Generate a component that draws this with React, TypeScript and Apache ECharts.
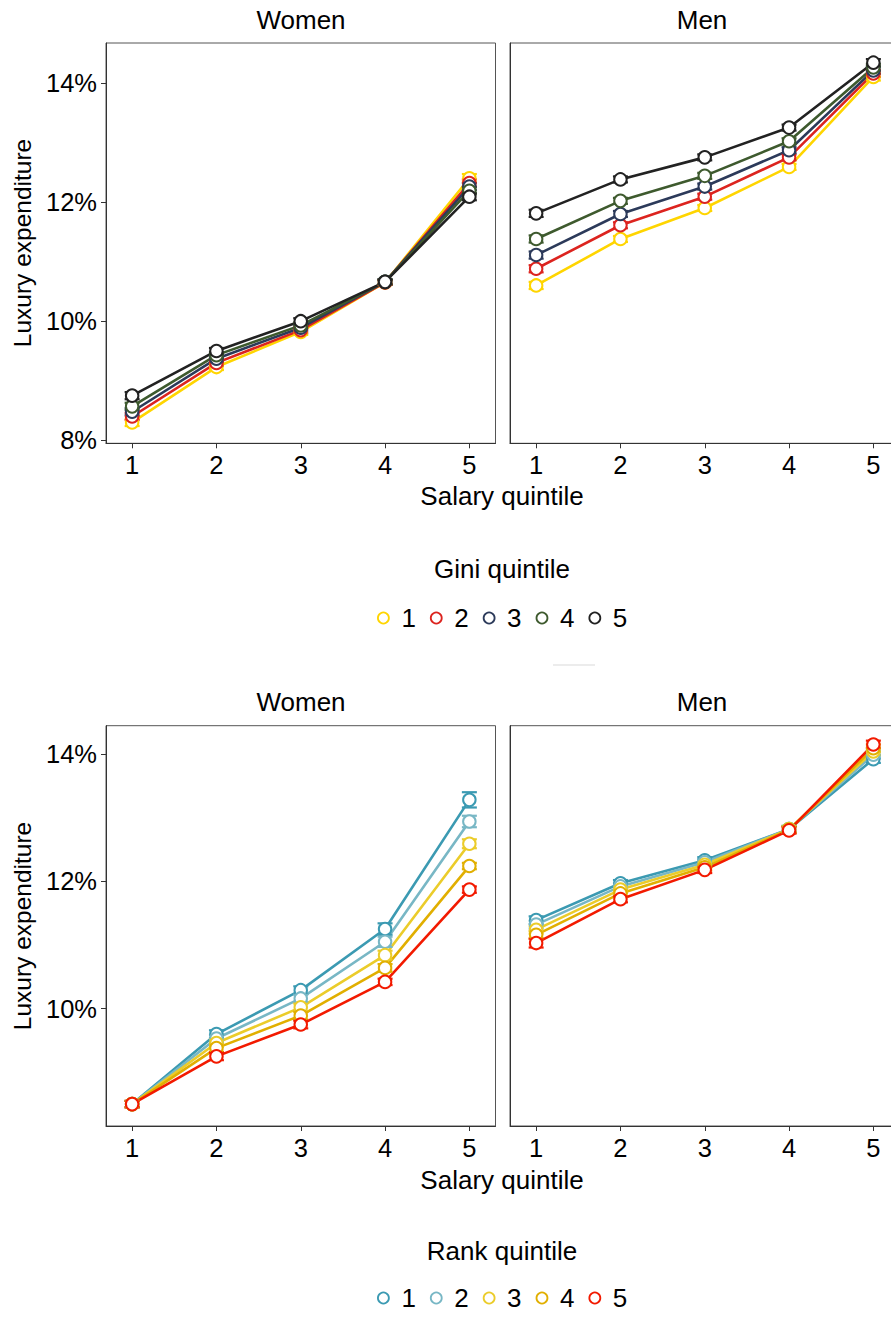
import React, { useEffect, useRef } from 'react';
import * as echarts from 'echarts';

const quintiles = [1, 2, 3, 4, 5];
const groupLabels = ['1', '2', '3', '4', '5'];

const giniColors = ['#FFD500', '#DC241F', '#2C3A5A', '#3E5A2E', '#222222'];
const rankColors = ['#3B9AB2', '#78B7C5', '#EBCC2A', '#E1AF00', '#F21A00'];

// Top: Gini quintile groups (rows = Gini quintile 1..5, cols = salary quintile 1..5)
const womenGini = [
  [8.30, 9.23, 9.82, 10.65, 12.40],
  [8.40, 9.30, 9.85, 10.65, 12.32],
  [8.48, 9.37, 9.89, 10.66, 12.26],
  [8.57, 9.43, 9.93, 10.66, 12.19],
  [8.75, 9.50, 10.00, 10.66, 12.09],
];
const womenGiniErr = [
  [0.06, 0.05, 0.05, 0.04, 0.07],
  [0.06, 0.05, 0.05, 0.04, 0.06],
  [0.06, 0.05, 0.05, 0.04, 0.06],
  [0.06, 0.05, 0.05, 0.04, 0.06],
  [0.06, 0.05, 0.05, 0.04, 0.06],
];
const menGini = [
  [10.60, 11.38, 11.90, 12.59, 14.10],
  [10.88, 11.61, 12.09, 12.75, 14.16],
  [11.11, 11.80, 12.26, 12.87, 14.21],
  [11.38, 12.02, 12.44, 13.02, 14.26],
  [11.81, 12.38, 12.75, 13.25, 14.34],
];
const menGiniErr = [
  [0.06, 0.05, 0.05, 0.05, 0.06],
  [0.06, 0.05, 0.05, 0.05, 0.06],
  [0.06, 0.05, 0.05, 0.05, 0.06],
  [0.06, 0.05, 0.05, 0.05, 0.06],
  [0.06, 0.05, 0.05, 0.05, 0.06],
];

// Bottom: Rank quintile groups
const womenRank = [
  [8.50, 9.60, 10.29, 11.25, 13.28],
  [8.50, 9.53, 10.16, 11.05, 12.94],
  [8.50, 9.46, 10.02, 10.84, 12.59],
  [8.50, 9.38, 9.89, 10.64, 12.24],
  [8.50, 9.25, 9.75, 10.42, 11.87],
];
const womenRankErr = [
  [0.05, 0.06, 0.06, 0.09, 0.12],
  [0.05, 0.06, 0.06, 0.08, 0.09],
  [0.05, 0.06, 0.06, 0.07, 0.07],
  [0.05, 0.06, 0.06, 0.06, 0.05],
  [0.05, 0.06, 0.06, 0.05, 0.05],
];
const menRank = [
  [11.39, 11.97, 12.33, 12.82, 13.92],
  [11.32, 11.92, 12.30, 12.82, 13.99],
  [11.24, 11.87, 12.26, 12.82, 14.04],
  [11.16, 11.81, 12.22, 12.81, 14.09],
  [11.03, 11.72, 12.18, 12.80, 14.15],
];
const menRankErr = [
  [0.06, 0.05, 0.05, 0.05, 0.06],
  [0.06, 0.05, 0.05, 0.05, 0.06],
  [0.06, 0.05, 0.05, 0.05, 0.06],
  [0.06, 0.05, 0.05, 0.05, 0.06],
  [0.07, 0.05, 0.05, 0.05, 0.06],
];

const topYTicks = [8, 10, 12, 14];
const bottomYTicks = [10, 12, 14];

const FONT = '"Liberation Sans", Arial, Helvetica, sans-serif';
const FS = 26;
const FS_TICK = 25.5;
const FS_YTITLE = 24.5;

export default function App() {
  const ref = useRef<HTMLDivElement>(null);

  useEffect(() => {
    if (!ref.current) return;
    const chart = echarts.init(ref.current, undefined, { renderer: 'svg' });

    const panelW = 389.5;
    const panelH = 400.3;
    const grids = [
      { left: 106, top: 43 },
      { left: 510, top: 43 },
      { left: 106, top: 725.7 },
      { left: 510, top: 725.7 },
    ].map((g) => ({
      left: g.left,
      top: g.top,
      width: panelW,
      height: panelH,
      show: true,
      borderColor: '#555',
      borderWidth: 1,
      backgroundColor: 'transparent',
      containLabel: false,
      outerBoundsMode: 'none',
    }));

    const xAxes = [0, 1, 2, 3].map((i) => ({
      type: 'value',
      gridIndex: i,
      min: 0.69,
      max: 5.31,
      axisLine: { show: true, lineStyle: { color: '#333', width: 1 } },
      axisTick: { show: true, customValues: quintiles, length: 5, lineStyle: { color: '#333', width: 1 } },
      axisLabel: {
        show: true,
        customValues: quintiles,
        fontSize: FS_TICK,
        fontFamily: FONT,
        color: '#000',
        margin: 9,
      },
      splitLine: { show: false },
    }));

    const yRanges = [
      [7.95, 14.67],
      [7.95, 14.67],
      [8.156, 14.445],
      [8.156, 14.445],
    ];
    const yAxes = [0, 1, 2, 3].map((i) => {
      const ticks = i < 2 ? topYTicks : bottomYTicks;
      const left = i % 2 === 0;
      return {
        type: 'value',
        gridIndex: i,
        min: yRanges[i][0],
        max: yRanges[i][1],
        axisLine: { show: true, lineStyle: { color: '#333', width: 1 } },
        axisTick: { show: left, customValues: ticks, length: 5, lineStyle: { color: '#333', width: 1 } },
        axisLabel: {
          show: left,
          customValues: ticks,
          formatter: '{value}%',
          fontSize: FS_TICK,
          fontFamily: FONT,
          color: '#000',
          margin: 9,
        },
        splitLine: { show: false },
      };
    });

    const series: any[] = [];
    const panels = [
      { idx: 0, vals: womenGini, errs: womenGiniErr, colors: giniColors, prefix: 'G' },
      { idx: 1, vals: menGini, errs: menGiniErr, colors: giniColors, prefix: 'G' },
      { idx: 2, vals: womenRank, errs: womenRankErr, colors: rankColors, prefix: 'R' },
      { idx: 3, vals: menRank, errs: menRankErr, colors: rankColors, prefix: 'R' },
    ];

    panels.forEach((p) => {
      p.vals.forEach((row, g) => {
        const color = p.colors[g];
        const name = p.prefix + groupLabels[g];
        series.push({
          type: 'line',
          name,
          xAxisIndex: p.idx,
          yAxisIndex: p.idx,
          data: quintiles.map((x, i) => [x, row[i]]),
          symbol: 'none',
          showSymbol: false,
          lineStyle: { color, width: 2.6 },
          itemStyle: { color },
          z: 2,
          silent: true,
        });
      });
      p.vals.forEach((row, g) => {
        const color = p.colors[g];
        const name = p.prefix + groupLabels[g];
        series.push({
          type: 'custom',
          name,
          xAxisIndex: p.idx,
          yAxisIndex: p.idx,
          data: quintiles.map((x, i) => [x, row[i] - p.errs[g][i], row[i] + p.errs[g][i]]),
          encode: { x: 0, y: [1, 2] },
          z: 3,
          silent: true,
          renderItem: (params: any, api: any) => {
            const x = api.value(0);
            const lo = api.coord([x, api.value(1)]);
            const hi = api.coord([x, api.value(2)]);
            const w = 7.5;
            const st = { stroke: color, lineWidth: 2.2, fill: 'none' };
            return {
              type: 'group',
              children: [
                { type: 'line', shape: { x1: lo[0], y1: lo[1], x2: hi[0], y2: hi[1] }, style: st },
                { type: 'line', shape: { x1: lo[0] - w, y1: lo[1], x2: lo[0] + w, y2: lo[1] }, style: st },
                { type: 'line', shape: { x1: hi[0] - w, y1: hi[1], x2: hi[0] + w, y2: hi[1] }, style: st },
              ],
            };
          },
        });
      });
      p.vals.forEach((row, g) => {
        const color = p.colors[g];
        const name = p.prefix + groupLabels[g];
        series.push({
          type: 'scatter',
          name,
          xAxisIndex: p.idx,
          yAxisIndex: p.idx,
          data: quintiles.map((x, i) => [x, row[i]]),
          symbol: 'circle',
          symbolSize: 12.5,
          itemStyle: { color: '#fff', borderColor: color, borderWidth: 2, opacity: 1 },
          z: 4,
          silent: true,
        });
      });
    });

    const mkLegend = (prefix: string, colors: string[], top: number) => ({
      orient: 'horizontal',
      left: 377,
      top,
      padding: 0,
      itemWidth: 26,
      itemHeight: 11,
      itemGap: 14,
      selectedMode: false,
      formatter: (n: string) => n.slice(1),
      textStyle: { fontSize: FS, fontFamily: FONT, color: '#000', lineHeight: 26 },
      data: groupLabels.map((l, i) => ({
        name: prefix + l,
        icon: 'circle',
        itemStyle: { color: '#fff', borderColor: colors[i], borderWidth: 1.8 },
      })),
    });

    const txt = (text: string, x: number, y: number, size: number, rotation = 0) => ({
      type: 'text',
      x,
      y,
      rotation,
      silent: true,
      style: {
        text,
        fontSize: size,
        fontFamily: FONT,
        fill: '#000',
        align: 'center',
        verticalAlign: 'middle',
        textAlign: 'center',
        textVerticalAlign: 'middle',
      },
    });

    chart.setOption({
      animation: false,
      backgroundColor: '#fff',
      grid: grids,
      xAxis: xAxes,
      yAxis: yAxes,
      series,
      legend: [mkLegend('G', giniColors, 605), mkLegend('R', rankColors, 1285)],
      graphic: [
        txt('Women', 301, 20, FS),
        txt('Men', 702, 20, FS),
        txt('Women', 301, 702, FS),
        txt('Men', 702, 702, FS),
        txt('Salary quintile', 502, 496, FS),
        txt('Salary quintile', 502, 1180, FS),
        txt('Luxury expenditure', 22, 243, FS_YTITLE, Math.PI / 2),
        txt('Luxury expenditure', 22, 926, FS_YTITLE, Math.PI / 2),
        txt('Gini quintile', 502, 569, FS),
        txt('Rank quintile', 502, 1251, FS),
        {
          type: 'line',
          silent: true,
          shape: { x1: 553, y1: 665, x2: 595, y2: 665 },
          style: { stroke: '#e6e6e6', lineWidth: 1.5 },
        },
      ],
    });

    return () => {
      chart.dispose();
    };
  }, []);

  return (
    <div
      ref={ref}
      style={{ position: 'absolute', left: 0, top: 0, width: 891, height: 1317, background: '#fff' }}
    />
  );
}
